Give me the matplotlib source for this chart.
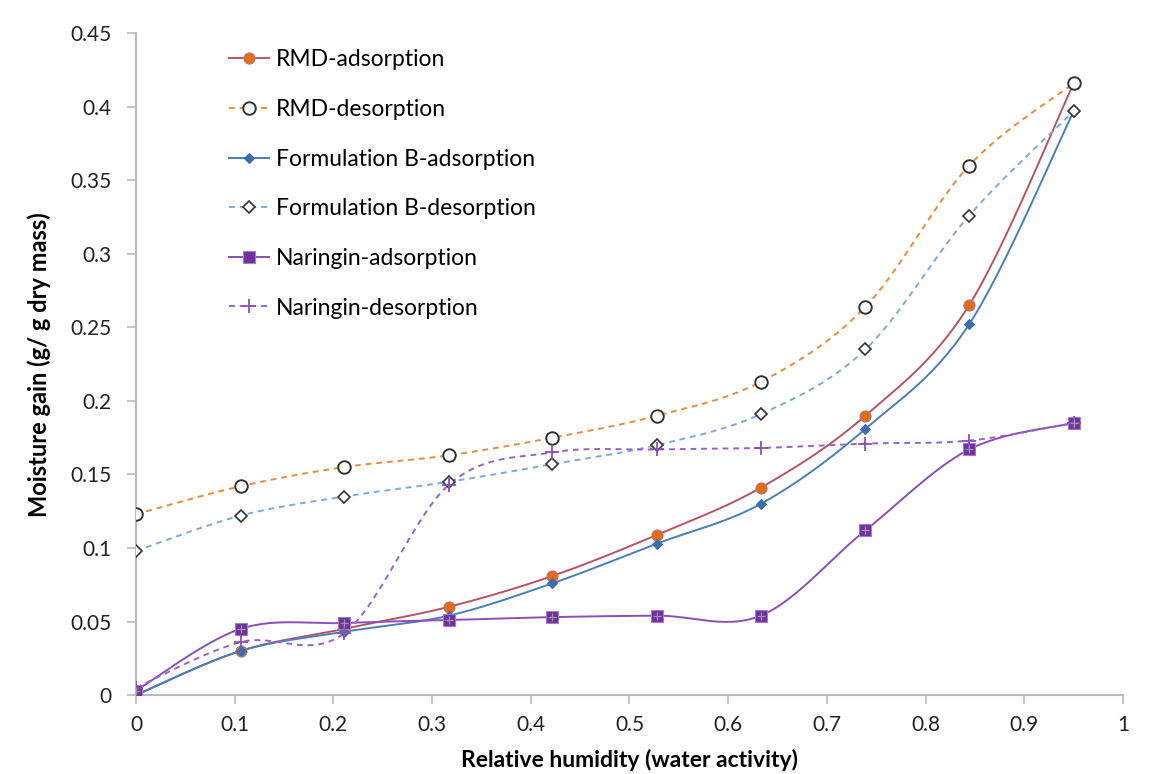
import numpy as np
import matplotlib.pyplot as plt
from matplotlib.lines import Line2D

plt.rcParams["font.family"] = ["Lato", "DejaVu Sans"]

# water activity
aw = [0, 0.106, 0.211, 0.317, 0.422, 0.528, 0.633, 0.739, 0.844, 0.95]

rmd_ads = [0.000, 0.030, 0.045, 0.060, 0.081, 0.109, 0.141, 0.190, 0.265, 0.416]
rmd_des = [0.123, 0.142, 0.155, 0.163, 0.175, 0.190, 0.213, 0.264, 0.360, 0.416]
fb_ads = [0.000, 0.030, 0.043, 0.054, 0.076, 0.103, 0.130, 0.181, 0.252, 0.397]
fb_des = [0.098, 0.122, 0.135, 0.145, 0.157, 0.170, 0.191, 0.235, 0.326, 0.397]
nar_ads = [0.003, 0.045, 0.049, 0.051, 0.053, 0.054, 0.054, 0.112, 0.167, 0.185]
nar_des = [0.005, 0.036, 0.042, 0.143, 0.165, 0.167, 0.168, 0.171, 0.173, 0.185]

x_ticks = [0, 0.1, 0.2, 0.3, 0.4, 0.5, 0.6, 0.7, 0.8, 0.9, 1]
y_ticks = [0, 0.05, 0.1, 0.15, 0.2, 0.25, 0.3, 0.35, 0.4, 0.45]


def smooth(x, y, n=30):
    # Catmull-Rom style curve through the points, like Excel's smoothed line
    x = np.asarray(x, float)
    y = np.asarray(y, float)
    px = np.concatenate([[x[0]], x, [x[-1]]])
    py = np.concatenate([[y[0]], y, [y[-1]]])
    xs, ys = [], []
    t = np.linspace(0, 1, n)
    for i in range(1, len(px) - 2):
        p0, p1, p2, p3 = (np.array([px[j], py[j]]) for j in range(i - 1, i + 3))
        c1 = p1 + (p2 - p0) / 6
        c2 = p2 - (p3 - p1) / 6
        b = ((1 - t) ** 3)[:, None] * p1 + (3 * (1 - t) ** 2 * t)[:, None] * c1 \
            + (3 * (1 - t) * t ** 2)[:, None] * c2 + (t ** 3)[:, None] * p2
        xs.append(b[:, 0])
        ys.append(b[:, 1])
    return np.concatenate(xs), np.concatenate(ys)


series = [
    ("RMD-adsorption", rmd_ads, dict(color="#B85462", ls="-", lw=1.4),
     dict(marker="o", ms=8, mfc="#E46C0A", mec="#B07A90", mew=0.8)),
    ("RMD-desorption", rmd_des, dict(color="#F08A3C", ls=(0, (3, 2.5)), lw=1.4),
     dict(marker="o", ms=9, mfc="white", mec="#333333", mew=1.4)),
    ("Formulation B-adsorption", fb_ads, dict(color="#4A7EBB", ls="-", lw=1.4),
     dict(marker="D", ms=5, mfc="#3F6FAA", mec="#3F6FAA", mew=0.8)),
    ("Formulation B-desorption", fb_des, dict(color="#7FA8E0", ls=(0, (3, 2.5)), lw=1.4),
     dict(marker="D", ms=6, mfc="white", mec="#333333", mew=1.2)),
    ("Naringin-adsorption", nar_ads, dict(color="#8A4FB8", ls="-", lw=1.4),
     dict(marker="s", ms=8, mfc="#7030A0", mec="#A57CC5", mew=0.8)),
    ("Naringin-desorption", nar_des, dict(color="#9A62C8", ls=(0, (3, 2.5)), lw=1.4),
     dict(marker="+", ms=10, mfc="none", mec="#8A4FB8", mew=1.3)),
]

fig = plt.figure(figsize=(11.58, 7.74), dpi=100)
ax = fig.add_axes([0.1174, 0.102, 0.8524, 0.855])

handles = []
for label, vals, lstyle, mstyle in series:
    sx, sy = smooth(aw, vals)
    ax.plot(sx, sy, zorder=2, **lstyle)
    ax.plot(aw, vals, ls="none", zorder=3, **mstyle)
    if label == "Naringin-adsorption":
        ax.plot(aw, vals, ls="none", marker="+", ms=6, mec="#9A9A9A", mew=0.9, zorder=4)
    handles.append(Line2D([], [], label=label, **lstyle, **mstyle))

ax.set_xlim(0, 1)
ax.set_ylim(0, 0.45)
ax.set_xticks(x_ticks)
ax.set_xticklabels([f"{v:g}" for v in x_ticks])
ax.set_yticks(y_ticks)
ax.set_yticklabels([f"{v:g}" for v in y_ticks])
ax.tick_params(labelsize=15, color="#BBBBBB", length=6.5, width=1.2, labelcolor="#222222")
ax.tick_params(axis="y", pad=11)
ax.tick_params(axis="x", pad=8)
for s in ("top", "right"):
    ax.spines[s].set_visible(False)
for s in ("left", "bottom"):
    ax.spines[s].set_color("#BBBBBB")
    ax.spines[s].set_linewidth(1.5)

ax.set_xlabel("Relative humidity (water activity)", fontsize=16.5, fontweight="bold", labelpad=10)
ax.set_ylabel("Moisture gain (g/ g dry mass)", fontsize=17, fontweight="bold", labelpad=14)

ax.legend(handles=handles, loc="upper left", bbox_to_anchor=(0.073, 1.007), frameon=False,
          fontsize=16.5, labelspacing=1.25, handlelength=1.75, handletextpad=0.3)

fig.savefig("out.png", dpi=100)
